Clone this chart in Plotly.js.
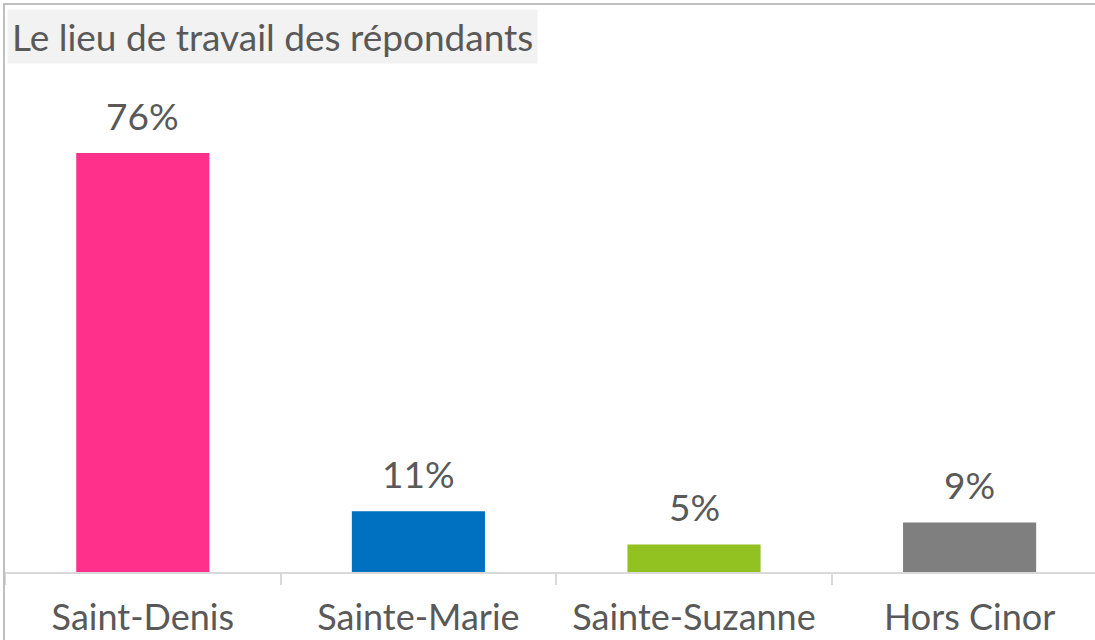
<!DOCTYPE html>
<html>
<head>
<meta charset="utf-8">
<script src="https://cdn.plot.ly/plotly-3.0.1.min.js"></script>
<style>
  html, body { margin: 0; padding: 0; background: #fff; }
  #chart { width: 1095px; height: 640px; }
</style>
</head>
<body>
<div id="chart"></div>
<script>
var lieux = ['Saint-Denis', 'Sainte-Marie', 'Sainte-Suzanne', 'Hors Cinor'];
var pourcentages = [76, 11, 5, 9];
var couleurs = ['#FF2F8C', '#0070C0', '#92C122', '#7F7F7F'];

var textColor = '#595959';
var fontFam = 'Lato, "Open Sans", sans-serif';

var trace = {
  type: 'bar',
  x: lieux,
  y: pourcentages,
  marker: {color: couleurs},
  hoverinfo: 'none'
};

// labels above the bars
var annots = lieux.map(function(l, i) {
  return {
    x: l, y: pourcentages[i],
    xref: 'x', yref: 'y',
    text: pourcentages[i] + '%',
    showarrow: false,
    yanchor: 'bottom',
    yshift: 13,
    font: {family: fontFam, size: 37, color: textColor}
  };
});

// the title in its grey box
annots.push({
  xref: 'paper', yref: 'paper',
  x: 0.002, y: 1.144,
  xanchor: 'left', yanchor: 'top',
  text: 'Le lieu de travail des répondants',
  showarrow: false,
  bgcolor: '#F2F2F2',
  borderpad: 4,
  font: {family: fontFam, size: 37, color: textColor}
});

var layout = {
  width: 1095,
  height: 640,
  margin: {l: 5, r: 0, t: 80, b: 68},
  paper_bgcolor: '#fff',
  plot_bgcolor: '#fff',
  showlegend: false,
  bargap: 0.517,
  font: {family: fontFam, color: textColor},
  xaxis: {
    type: 'category',
    range: [-0.5, 3.455],
    showline: true,
    linecolor: '#D9D9D9',
    linewidth: 2,
    ticks: 'outside',
    tickson: 'boundaries',
    ticklen: 11,
    tickwidth: 2,
    tickcolor: '#D9D9D9',
    ticklabelstandoff: 13,
    tickfont: {family: fontFam, size: 36, color: textColor},
    showgrid: false,
    zeroline: false,
    fixedrange: true
  },
  yaxis: {
    range: [0, 89.25],
    visible: false,
    showgrid: false,
    zeroline: false,
    fixedrange: true
  },
  annotations: annots,
  shapes: [{
    type: 'rect',
    xref: 'paper', yref: 'paper',
    x0: -0.0009, x1: 1.01, y0: -0.2, y1: 1.1545,
    line: {color: '#BFBFBF', width: 2},
    fillcolor: 'rgba(0,0,0,0)'
  }]
};

Plotly.newPlot('chart', [trace], layout, {displayModeBar: false, staticPlot: true});
</script>
</body>
</html>
